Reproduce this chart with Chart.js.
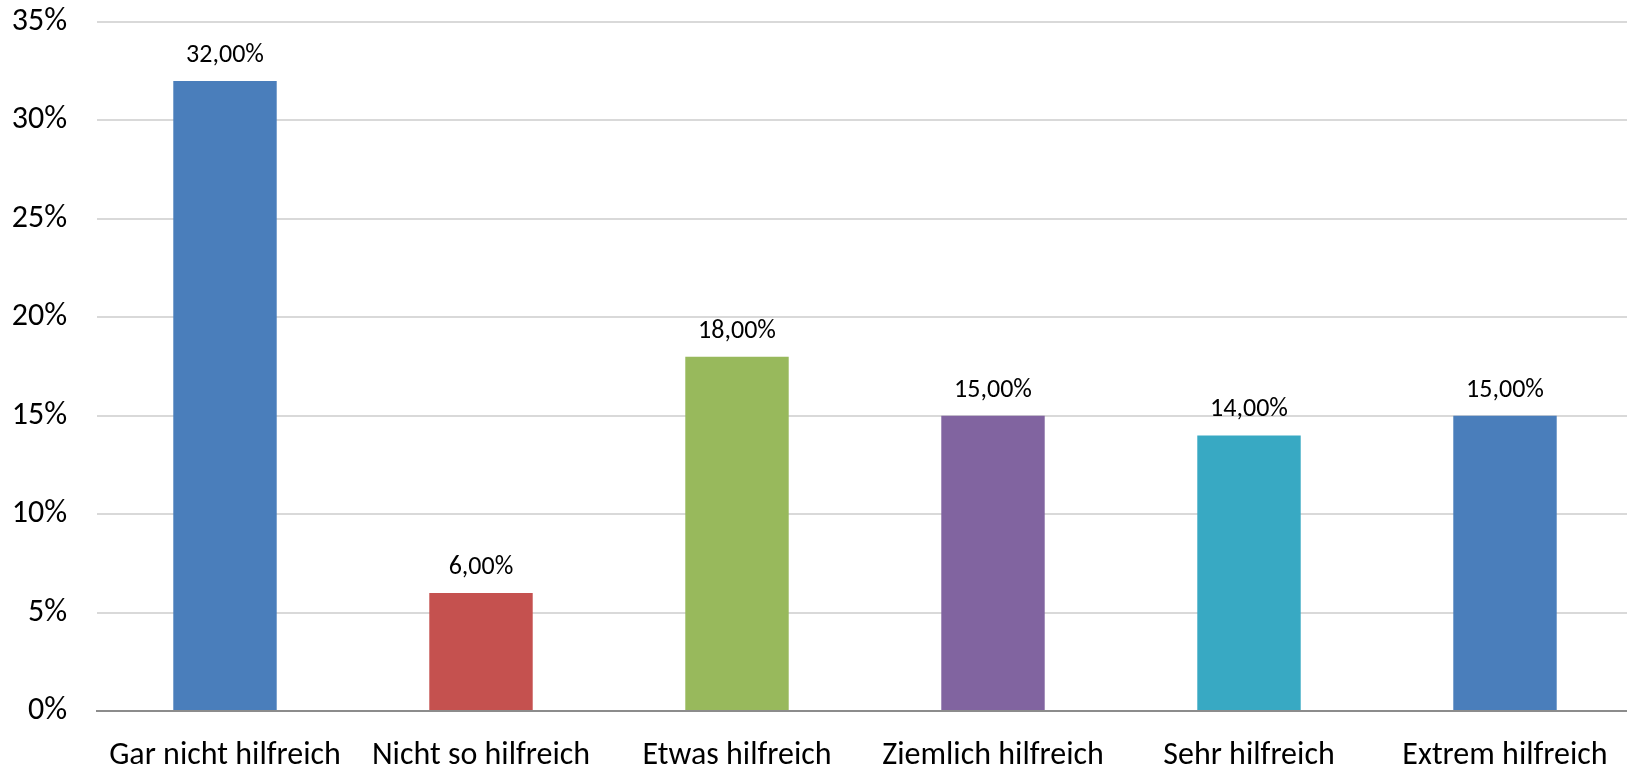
<!DOCTYPE html>
<html>
<head>
<meta charset="utf-8">
<script src="https://cdn.jsdelivr.net/npm/chart.js@4/dist/chart.umd.min.js"></script>
<style>
html,body{margin:0;padding:0;background:#fff;overflow:hidden;}
#wrap{position:relative;width:1627px;height:768px;overflow:hidden;}
</style>
</head>
<body>
<div id="wrap"><canvas id="c" width="1633" height="768"></canvas></div>
<script>
const categories = ["Gar nicht hilfreich", "Nicht so hilfreich", "Etwas hilfreich", "Ziemlich hilfreich", "Sehr hilfreich", "Extrem hilfreich"];
const values = [32, 6, 18, 15, 14, 15];
const barColors = ["#4a7ebb", "#c5514f", "#98b95c", "#8164a0", "#38a9c3", "#4a7ebb"];
const yMin = 0, yMax = 35, yStep = 5;

const FONT = "Carlito, Lato, 'Liberation Sans', sans-serif";

const dataLabels = {
  id: 'dataLabels',
  afterDatasetsDraw(chart) {
    const ctx = chart.ctx;
    const meta = chart.getDatasetMeta(0);
    ctx.save();
    ctx.fillStyle = '#000';
    ctx.font = '26px ' + FONT;
    ctx.textAlign = 'center';
    ctx.textBaseline = 'alphabetic';
    meta.data.forEach((bar, i) => {
      const txt = values[i].toFixed(2).replace('.', ',') + '%';
      ctx.fillText(txt, bar.x, bar.y - 19);
    });
    ctx.restore();
  }
};

new Chart(document.getElementById('c'), {
  type: 'bar',
  data: {
    labels: categories,
    datasets: [{
      data: values,
      backgroundColor: barColors,
      borderWidth: 0,
      categoryPercentage: 1,
      barPercentage: 0.404
    }]
  },
  options: {
    responsive: false,
    animation: false,
    devicePixelRatio: 1,
    layout: { padding: { top: 22, right: 0, left: 0, bottom: 0 } },
    plugins: { legend: { display: false }, tooltip: { enabled: false } },
    scales: {
      x: {
        grid: { display: false, drawTicks: false },
        border: { color: '#8c8c8c', width: 2 },
        ticks: { color: '#000', font: { family: FONT, size: 32 }, padding: 26, maxRotation: 0, autoSkip: false },
        afterFit(s) { s.height = 57; s.paddingLeft = 0; s.paddingRight = 0; }
      },
      y: {
        min: yMin, max: yMax,
        grid: { color: '#d9d9d9', lineWidth: 2, drawTicks: false },
        border: { display: false },
        ticks: { stepSize: yStep, color: '#000', font: { family: FONT, size: 32 }, padding: 30,
          callback: v => v + '%' },
        afterFit(s) { s.width = 97; s.paddingTop = 0; s.paddingBottom = 0; }
      }
    }
  },
  plugins: [dataLabels]
});
</script>
</body>
</html>
